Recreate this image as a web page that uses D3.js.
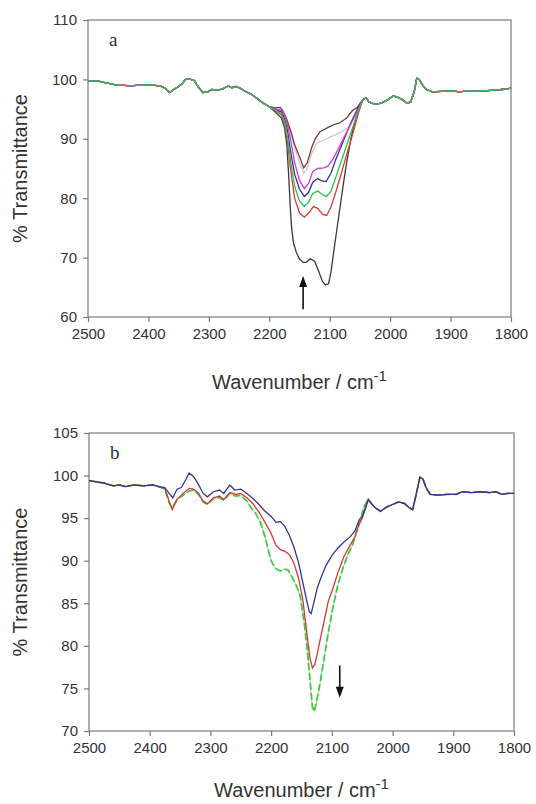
<!DOCTYPE html>
<html>
<head>
<meta charset="utf-8">
<script src="https://cdn.jsdelivr.net/npm/d3@7"></script>
<style>
  body { margin: 0; background: #fff; }
  svg text { font-family: Arial, "Liberation Sans", sans-serif; }
</style>
</head>
<body>
<div id="chart"></div>
<script>
// ---- Panel a data: [wavenumber, %T] ----
const headA = [[2500,99.8],[2492,99.7],[2485,99.8],[2478,99.6],[2470,99.4],[2460,99.2],[2450,99.0],[2440,99.0],[2430,98.9],[2420,99.0],[2410,99.0],[2400,99.1],[2390,99.0],[2380,98.9],[2372,98.5],[2365,97.8],[2358,98.3],[2350,98.8],[2343,99.4],[2338,100.1],[2330,100.0],[2324,99.8],[2318,98.8],[2310,97.8],[2302,97.9],[2295,98.3],[2285,98.2],[2277,98.4],[2268,98.9],[2262,98.6],[2255,98.8],[2248,98.5],[2240,98.0],[2230,97.5],[2220,96.8],[2210,96.0],[2200,95.4]];
const tailA = [[2045,96.6],[2040,96.9],[2035,96.2],[2025,95.8],[2015,96.0],[2005,96.5],[1995,97.2],[1988,97.0],[1980,96.6],[1972,96.0],[1966,96.2],[1960,98.0],[1956,100.2],[1952,100.0],[1946,99.0],[1940,98.3],[1930,97.9],[1915,98.0],[1900,98.1],[1885,97.9],[1870,98.1],[1855,98.0],[1840,98.1],[1825,98.2],[1815,98.3],[1805,98.4],[1800,98.6]];

const bandBlack = [[2190,94.5],[2180,93.5],[2175,92],[2171,89],[2168,84],[2165,78],[2163,75],[2160,72.5],[2155,70.8],[2150,69.8],[2144,69.2],[2139,69.2],[2132,69.8],[2125,69.4],[2118,67.6],[2112,66.0],[2107,65.4],[2102,65.6],[2098,67.5],[2092,72],[2085,77],[2078,82],[2072,86],[2065,90],[2058,93],[2052,95]];
const bandRed = [[2190,94.8],[2180,94],[2175,92.5],[2170,89.5],[2165,85],[2158,80],[2150,77.5],[2142,76.8],[2135,77.5],[2127,78.6],[2120,78.3],[2112,77.3],[2105,77.1],[2098,78.5],[2090,81],[2080,84.5],[2070,88],[2060,91.5],[2052,94.5]];
const bandGreen = [[2190,94.8],[2180,94.2],[2175,93],[2170,90.5],[2165,86.5],[2158,82],[2150,79.5],[2142,78.6],[2135,79.3],[2128,80.8],[2120,81.2],[2112,80.6],[2105,80.3],[2098,81.2],[2090,83.5],[2080,86.5],[2070,89.5],[2060,92.5],[2050,95.5]];
const bandBlue = [[2190,95],[2180,94.5],[2175,93.5],[2170,91.5],[2165,88],[2158,84],[2150,81.5],[2142,80.3],[2135,81],[2128,82.7],[2120,83.3],[2113,82.9],[2106,82.8],[2098,84.2],[2090,86.5],[2080,89],[2070,91.5],[2060,93.8],[2050,95.8]];
const bandMagenta = [[2190,95],[2180,94.8],[2175,94],[2170,92.5],[2165,90],[2158,86],[2150,83],[2142,81.6],[2135,82.5],[2128,84.5],[2120,85],[2110,85.1],[2103,85.4],[2095,86.5],[2085,88.5],[2075,90.5],[2065,92.5],[2055,94.5],[2048,96]];
const bandGray = [[2190,95],[2180,94.8],[2175,94.3],[2170,93],[2165,91],[2158,88.5],[2150,86],[2143,84.2],[2137,85],[2130,87.5],[2122,89.2],[2110,89.8],[2095,90.5],[2080,91.2],[2070,91.8],[2060,93.5],[2052,95.5]];
const bandBrown = [[2190,95.2],[2182,95.3],[2178,94.8],[2172,93.5],[2165,91.5],[2158,89],[2150,87],[2143,85.1],[2137,86],[2130,88.5],[2124,90],[2116,91.2],[2105,91.8],[2095,92.3],[2083,92.7],[2072,93.5],[2062,94.8],[2055,95.2],[2048,96.2]];

const namesA = ['black', 'red', 'green', 'blue', 'magenta', 'gray', 'brown'];
const bandsA = [bandBlack, bandRed, bandGreen, bandBlue, bandMagenta, bandGray, bandBrown];
const colorsA = ['#3a3a3a', '#e0383a', '#2cc24c', '#30339a', '#d43ad4', '#d2c8cc', '#7b3a3a'];

// ---- Panel b data ----
const headB = [[2500,99.4],[2490,99.3],[2475,99.1],[2460,98.8],[2450,98.9],[2440,98.7],[2425,98.9],[2410,98.8],[2395,98.9],[2385,98.7]];
const tailB = [[2040,97.2],[2035,96.7],[2028,96.2],[2020,95.8],[2010,96.3],[2000,96.6],[1990,96.9],[1980,96.7],[1972,96.2],[1967,96.0],[1962,97.5],[1955,99.8],[1950,99.6],[1945,98.6],[1938,97.8],[1925,97.7],[1910,97.8],[1895,97.8],[1885,98.1],[1870,98.0],[1855,98.1],[1840,98.0],[1830,98.1],[1820,97.8],[1810,97.9],[1800,97.9]];

const midBlue = [[2375,98.6],[2368,97.9],[2362,97.4],[2355,98.4],[2348,98.6],[2340,99.6],[2335,100.3],[2328,99.9],[2320,99.0],[2312,97.9],[2305,97.5],[2295,98.1],[2285,98.3],[2278,97.9],[2268,98.9],[2260,98.3],[2250,98.4],[2240,97.9],[2230,97.3],[2220,96.6],[2210,95.8],[2200,95.2],[2192,94.5],[2185,94.6],[2178,94.1],[2170,93.0],[2162,91.5],[2155,89.8],[2148,87.5],[2142,85.5],[2137,84.0],[2134,83.8],[2130,85],[2124,86.8],[2118,88],[2110,89.4],[2100,90.6],[2090,91.5],[2080,92.2],[2070,92.8],[2062,93.5],[2055,94.8],[2050,95.2],[2045,96.2]];
const midRed = [[2375,98.5],[2368,97.0],[2363,96.0],[2355,97.2],[2345,97.9],[2335,98.5],[2328,98.4],[2320,98.0],[2312,97.0],[2305,96.7],[2295,97.4],[2285,97.6],[2278,97.2],[2268,98.0],[2258,97.8],[2250,97.9],[2240,97.4],[2230,96.7],[2220,95.7],[2210,94.5],[2200,93.2],[2192,91.8],[2185,91.3],[2177,91.1],[2170,90.7],[2163,89.8],[2155,88.0],[2148,85.5],[2142,82.0],[2136,78.5],[2132,77.4],[2128,77.8],[2122,79.8],[2114,82.5],[2106,85.2],[2098,86.8],[2090,88.6],[2080,90.5],[2070,91.8],[2062,92.8],[2055,94.3],[2050,95.0],[2045,96.0]];
const midGreen = [[2375,98.4],[2368,96.8],[2363,96.2],[2355,97.2],[2345,97.7],[2335,98.2],[2328,98.3],[2320,97.8],[2312,96.9],[2305,96.6],[2295,97.3],[2285,97.4],[2278,97.1],[2268,97.9],[2258,97.6],[2250,97.7],[2240,97.0],[2234,96.3],[2225,95.5],[2217,94.4],[2210,92.8],[2205,91.3],[2200,90.0],[2193,89.1],[2185,88.8],[2178,89.0],[2172,88.9],[2165,88.0],[2158,87.0],[2152,85.8],[2146,83.0],[2141,79.9],[2136,76.0],[2132,72.8],[2129,72.3],[2125,73.5],[2119,75.8],[2114,78.0],[2106,81.5],[2098,84.6],[2090,87.2],[2081,89.3],[2073,90.8],[2065,92.0],[2058,93.8],[2052,95.0],[2048,96.2]];

const ticksX = [2500, 2400, 2300, 2200, 2100, 2000, 1900, 1800];
const ticksYA = [60, 70, 80, 90, 100, 110];
const ticksYB = [70, 75, 80, 85, 90, 95, 100, 105];

const svg = d3.select('#chart').append('svg')
    .attr('width', 536)
    .attr('height', 804);

// Draw one panel frame with axes and titles, returns scales
function panel(box, yDomain, yTicks, letter, titleGap) {
    const x = d3.scaleLinear().domain([2500, 1800]).range([box.left, box.right]);
    const y = d3.scaleLinear().domain(yDomain).range([box.bottom, box.top]);
    const g = svg.append('g');

    // frame
    g.append('rect')
        .attr('x', box.left).attr('y', box.top)
        .attr('width', box.right - box.left).attr('height', box.bottom - box.top)
        .attr('fill', 'none').attr('stroke', '#7a7a7a').attr('stroke-width', 1.2);

    const ax = g.append('g')
        .attr('transform', `translate(0,${box.bottom})`)
        .call(d3.axisBottom(x).tickValues(ticksX).tickSize(5).tickPadding(6).tickFormat(d3.format('d')));
    const ay = g.append('g')
        .attr('transform', `translate(${box.left},0)`)
        .call(d3.axisLeft(y).tickValues(yTicks).tickSize(5).tickPadding(6).tickFormat(d3.format('d')));
    [ax, ay].forEach(a => {
        a.select('.domain').remove();
        a.selectAll('line').attr('stroke', '#7a7a7a').attr('stroke-width', 1.2);
        a.selectAll('text').attr('fill', '#333').style('font-size', '15px')
            .style('font-family', 'Arial, "Liberation Sans", sans-serif');
    });

    // axis titles
    const cx = (box.left + box.right) / 2;
    const xt = g.append('text')
        .attr('x', cx).attr('y', box.bottom + titleGap)
        .attr('text-anchor', 'middle')
        .attr('fill', '#333')
        .style('font-size', '20px');
    xt.append('tspan').text('Wavenumber / cm');
    xt.append('tspan').attr('dy', -8).style('font-size', '15px').text('-1');

    g.append('text')
        .attr('transform', `translate(27,${(box.top + box.bottom) / 2}) rotate(-90)`)
        .attr('text-anchor', 'middle')
        .attr('fill', '#333')
        .style('font-size', '20px')
        .text('% Transmittance');

    g.append('text')
        .attr('x', box.left + 21).attr('y', box.top + 26)
        .attr('fill', '#333')
        .style('font-family', '"Liberation Serif", "DejaVu Serif", serif')
        .style('font-size', '19px')
        .text(letter);

    return { x, y, g };
}

function arrow(p, wn, from, to) {
    const x0 = p.x(wn), y0 = p.y(from), y1 = p.y(to);
    const dir = Math.sign(y1 - y0);
    p.g.append('line')
        .attr('x1', x0).attr('x2', x0)
        .attr('y1', y0).attr('y2', y1 - dir * 8)
        .attr('stroke', '#111').attr('stroke-width', 1.6);
    p.g.append('path')
        .attr('d', `M${x0},${y1} L${x0 - 4},${y1 - dir * 11} L${x0 + 4},${y1 - dir * 11} Z`)
        .attr('fill', '#111');
}

// ---- Panel a ----
const pa = panel({ left: 88, right: 511, top: 20, bottom: 317 }, [60, 110], ticksYA, 'a', 72);
const lineA = d3.line().x(d => pa.x(d[0])).y(d => pa.y(d[1]));
// draw order mixes colours along the shared baseline, as in the source
[0, 5, 6, 3, 1, 4, 2].forEach(i => {
    pa.g.append('path')
        .datum(headA.concat(bandsA[i], tailA))
        .attr('class', 'line ' + namesA[i])
        .attr('d', lineA)
        .attr('fill', 'none')
        .attr('stroke', colorsA[i])
        .attr('stroke-width', 1.3);
});
arrow(pa, 2144, 61.3, 66.9);

// ---- Panel b ----
const pb = panel({ left: 89, right: 514, top: 433, bottom: 731 }, [70, 105], ticksYB, 'b', 66);
const lineB = d3.line().x(d => pb.x(d[0])).y(d => pb.y(d[1]));
const seriesB = [
    { name: 'green', mid: midGreen, color: '#3bd03b', dash: '7,3' },
    { name: 'red', mid: midRed, color: '#d2393a', dash: null },
    { name: 'blue', mid: midBlue, color: '#34369a', dash: null }
];
// faint gray underlay for the dashed green trace
pb.g.append('path')
    .datum(headB.concat(midGreen, tailB))
    .attr('d', lineB)
    .attr('fill', 'none')
    .attr('stroke', '#b8c8b8')
    .attr('stroke-width', 1);
seriesB.forEach(s => {
    pb.g.append('path')
        .datum(headB.concat(s.mid, tailB))
        .attr('class', 'line ' + s.name)
        .attr('d', lineB)
        .attr('fill', 'none')
        .attr('stroke', s.color)
        .attr('stroke-width', s.dash ? 1.8 : 1.3)
        .attr('stroke-dasharray', s.dash);
});
arrow(pb, 2087, 77.7, 73.9);
</script>
</body>
</html>
